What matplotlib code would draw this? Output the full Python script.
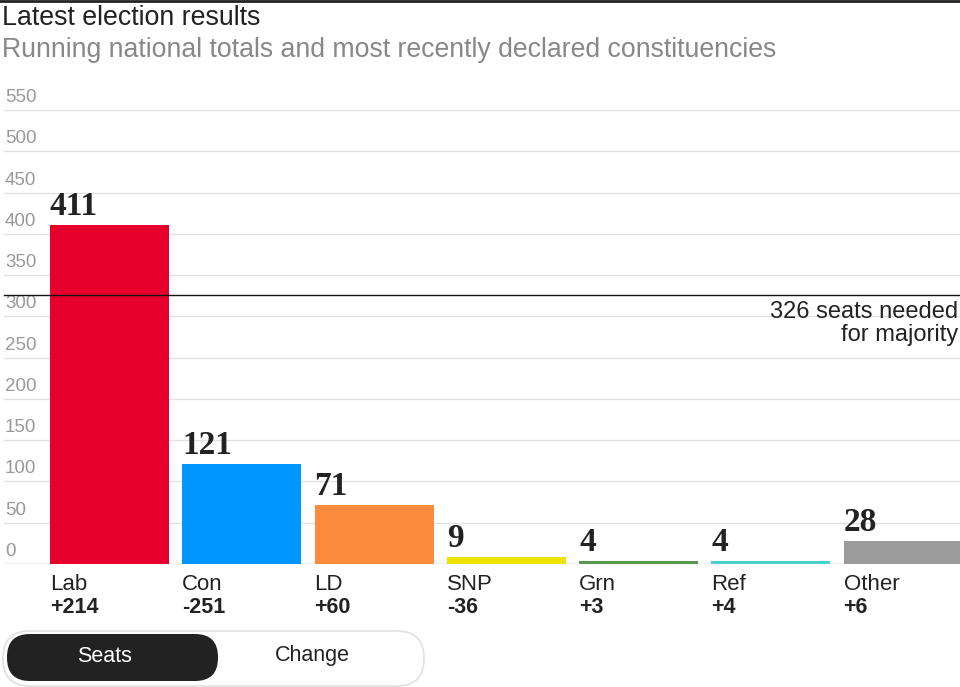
import matplotlib.pyplot as plt
from matplotlib.patches import FancyBboxPatch

# data
parties = ['Lab', 'Con', 'LD', 'SNP', 'Grn', 'Ref', 'Other']
seats = [411, 121, 71, 9, 4, 4, 28]
change = ['+214', '-251', '+60', '-36', '+3', '+4', '+6']
colors = ['#e8002c', '#0096ff', '#fd8b3d', '#ede200', '#56994d', '#48d1cc', '#9b9b9b']
majority = 326
yticks = list(range(0, 551, 50))

sans = 'Liberation Sans'
serif = 'Liberation Serif'

W, H = 960, 687
fig = plt.figure(figsize=(W / 100, H / 100), dpi=100)
fig.patch.set_facecolor('white')

# axes placed so that 0 -> y=564px and 550 -> y=110px
ax = fig.add_axes([0, (H - 564) / H, 1, (564 - 110) / H])
ax.set_xlim(-0.828, 6.43)
ax.set_ylim(0, 550)
ax.axis('off')

px = 550 / (564 - 110)  # data units per pixel

for v in yticks:
    ax.axhline(v, xmin=4 / W, xmax=1, color='#bbbbbb' if v == 0 else '#e2e2e2',
               lw=1, zorder=0)
    ax.text(5 / W, v + 8 * px, str(v), transform=ax.get_yaxis_transform(),
            fontsize=13.5, color='#999999', family=sans, va='baseline', ha='left')

x = list(range(len(parties)))
bars = ax.bar(x, seats, width=0.9, color=colors, zorder=2)

for b, s in zip(bars, seats):
    ax.text(b.get_x(), s + 10 * px, str(s), fontsize=24, fontweight='bold',
            family=serif, color='#222222', va='baseline', ha='left')

ax.axhline(majority, xmin=4 / W, xmax=1, color='#111111', lw=1, zorder=3)
ax.text(958 / W, majority - 23 * px, '326 seats needed',
        transform=ax.get_yaxis_transform(), ha='right', va='baseline',
        fontsize=17, family=sans, color='#222222')
ax.text(958 / W, majority - 46 * px, 'for majority',
        transform=ax.get_yaxis_transform(), ha='right', va='baseline',
        fontsize=17, family=sans, color='#222222')

for b, p, c in zip(bars, parties, change):
    ax.text(b.get_x(), -26 * px, p, fontsize=16, family=sans, color='#222222',
            va='baseline', ha='left', clip_on=False)
    ax.text(b.get_x(), -49 * px, c, fontsize=15.5, family=sans, fontweight='bold',
            color='#222222', va='baseline', ha='left', clip_on=False)

# top rule, title, subtitle
fig.add_artist(plt.Line2D([0, 1], [1 - 1 / H, 1 - 1 / H], color='#222222', lw=2))
fig.text(2 / W, 1 - 25 / H, 'Latest election results', fontsize=19.3,
         family=sans, color='#222222', va='baseline')
fig.text(2 / W, 1 - 57 / H, 'Running national totals and most recently declared constituencies',
         fontsize=19.2, family=sans, color='#888888', va='baseline')

# toggle buttons
outer = FancyBboxPatch((3, H - 686), 421, 55, boxstyle='round,pad=0,rounding_size=27',
                       transform=None, facecolor='white', edgecolor='#e0e0e0', lw=1.2)
inner = FancyBboxPatch((7, H - 681), 211, 47, boxstyle='round,pad=0,rounding_size=23',
                       transform=None, facecolor='#222222', edgecolor='none')
fig.add_artist(outer)
fig.add_artist(inner)
fig.text(105 / W, 1 - 656 / H, 'Seats', fontsize=15.5, family=sans, color='white',
         ha='center', va='center')
fig.text(312 / W, 1 - 656 / H, 'Change', fontsize=15.5, family=sans, color='#222222',
         ha='center', va='center')

fig.savefig('out.png', dpi=100)
